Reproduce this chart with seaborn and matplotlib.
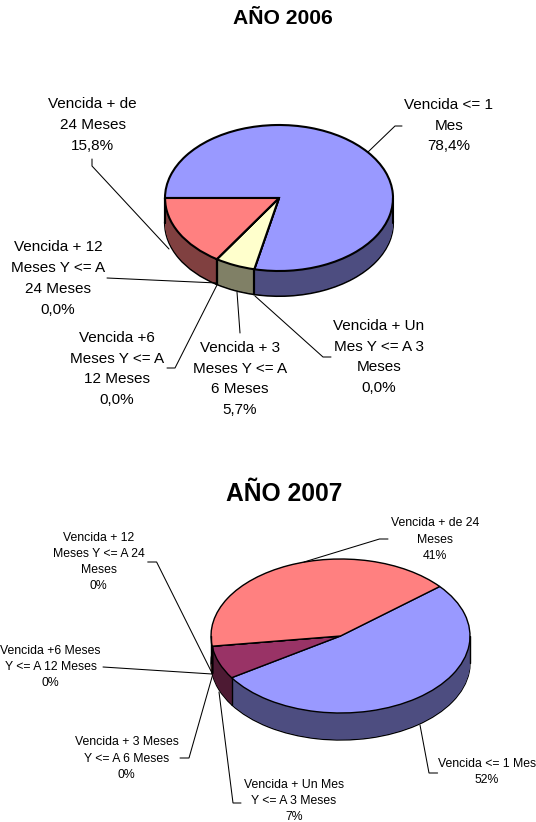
import numpy as np
import matplotlib
matplotlib.use('Agg')
import matplotlib.pyplot as plt
import seaborn as sns

# Data, same category order for both years
labels_2006 = ['Vencida <= 1\nMes', 'Vencida + Un\nMes Y <= A 3\nMeses', 'Vencida + 3\nMeses Y <= A\n6 Meses',
               'Vencida +6\nMeses Y <= A\n12 Meses', 'Vencida + 12\nMeses Y <= A\n24 Meses', 'Vencida + de\n24 Meses']
labels_2007 = ['Vencida <= 1 Mes', 'Vencida + Un Mes\nY <= A 3 Meses', 'Vencida + 3 Meses\nY <= A 6 Meses',
               'Vencida +6 Meses\nY <= A 12 Meses', 'Vencida + 12\nMeses Y <= A 24\nMeses', 'Vencida + de 24\nMeses']
values_2006 = [78.4, 0.0, 5.7, 0.0, 0.0, 15.8]
values_2007 = [52, 7, 0, 0, 0, 41]

colors_2006 = ['#9999FF', '#993366', '#FFFFCC', '#CCFFFF', '#660066', '#FF8080']
colors_2007 = ['#9999FF', '#993366', '#FFFFCC', '#CCFFFF', '#660066', '#FF8080']

sns.set_theme(style='white')
plt.rcParams['font.family'] = ['Liberation Sans', 'DejaVu Sans']

W, H = 536, 822
fig = plt.figure(figsize=(W / 100, H / 100), dpi=100, facecolor='white')

# overlay in pixel coords for titles, labels and leader lines
over = fig.add_axes([0, 0, 1, 1], zorder=5)
over.set_xlim(0, W)
over.set_ylim(H, 0)
over.axis('off')


def pie3d(values, colors, start, cx, cy, rx, ry, depth, lw):
    # flattened pie: the axes box squashes the unit circle to an ellipse
    pad = 1.1
    ax = fig.add_axes([(cx - rx * pad) / W, 1 - (cy + ry * pad + depth) / H,
                       2 * rx * pad / W, (2 * ry * pad + depth) / H])
    d = depth / ry
    dark = [tuple(c * 0.5 for c in matplotlib.colors.to_rgb(col)) for col in colors]
    # wall = dark pies stacked from the bottom up
    ax.pie(values, colors=dark, startangle=start, counterclock=False, center=(0, -d), radius=1,
           wedgeprops={'edgecolor': 'black', 'linewidth': lw})
    for off in np.linspace(d, 0, depth * 2)[1:]:
        ax.pie(values, colors=dark, startangle=start, counterclock=False, center=(0, -off), radius=1,
               wedgeprops={'linewidth': 0})
    # vertical edges of the wall at slice borders and at the silhouette
    angles = start - np.cumsum(values) / np.sum(values) * 360
    for a in np.radians(angles):
        if np.sin(a) < 0:
            ax.plot([np.cos(a)] * 2, [np.sin(a), np.sin(a) - d], color='black', lw=lw)
    for side in (-1, 1):
        ax.plot([side, side], [0, -d], color='black', lw=lw)
    ax.pie(values, colors=colors, startangle=start, counterclock=False, radius=1,
           wedgeprops={'edgecolor': 'black', 'linewidth': lw})
    ax.set_aspect('auto')
    ax.set_xlim(-pad, pad)
    ax.set_ylim(-pad - d, pad)


def leader(points):
    xs, ys = zip(*points)
    over.plot(xs, ys, color='black', lw=0.75, solid_joinstyle='miter')


def pct_2006(v):
    return f'{v:.1f}%'.replace('.', ',')


pie3d(values_2006, colors_2006, 180, 279, 198, 114, 73, 25, 1.5)
pie3d(values_2007, colors_2007, 40, 340.5, 636, 129.5, 77, 27, 1.0)

over.text(283, 19, 'AÑO 2006', ha='center', va='center', fontsize=15.2, fontweight='bold', color='black')
over.text(284, 494, 'AÑO 2007', ha='center', va='center', fontsize=17.7, fontweight='bold', color='black')

# label centres, in the same order as the categories
pos_2006 = [(449, 125.5), (379, 357), (240, 379), (117, 369), (58, 278.5), (92.5, 125)]
pos_2007 = [(487, 772), (294, 801), (126.5, 758.5), (50.6, 667), (98.5, 562), (435, 539.5)]

for lab, v, (x, y) in zip(labels_2006, values_2006, pos_2006):
    over.text(x, y, f'{lab}\n{pct_2006(v)}', ha='center', va='center', ma='center',
              fontsize=11, linespacing=1.62, color='black')
for lab, v, (x, y) in zip(labels_2007, values_2007, pos_2007):
    over.text(x, y, f'{lab}\n{v}%', ha='center', va='center', ma='center',
              fontsize=8.8, linespacing=1.45, color='black')

leaders = [
    [(402, 126), (395, 126), (368, 152)],
    [(331, 357), (323, 357), (255, 296)],
    [(240, 333), (237, 292)],
    [(167, 368), (175, 368), (217, 285)],
    [(107, 278), (217, 283)],
    [(92, 159), (92, 166), (169, 249)],
    [(388, 539), (379.5, 539), (304, 562)],
    [(147.7, 562), (156.6, 562), (212, 673)],
    [(103, 667), (212, 674)],
    [(180, 758), (189, 758), (212.6, 675)],
    [(241, 803), (233, 803), (219, 692)],
    [(437.6, 773), (429, 773), (420, 725)],
]
for pts in leaders:
    leader(pts)

plt.savefig('out.png', dpi=100)
plt.close()
